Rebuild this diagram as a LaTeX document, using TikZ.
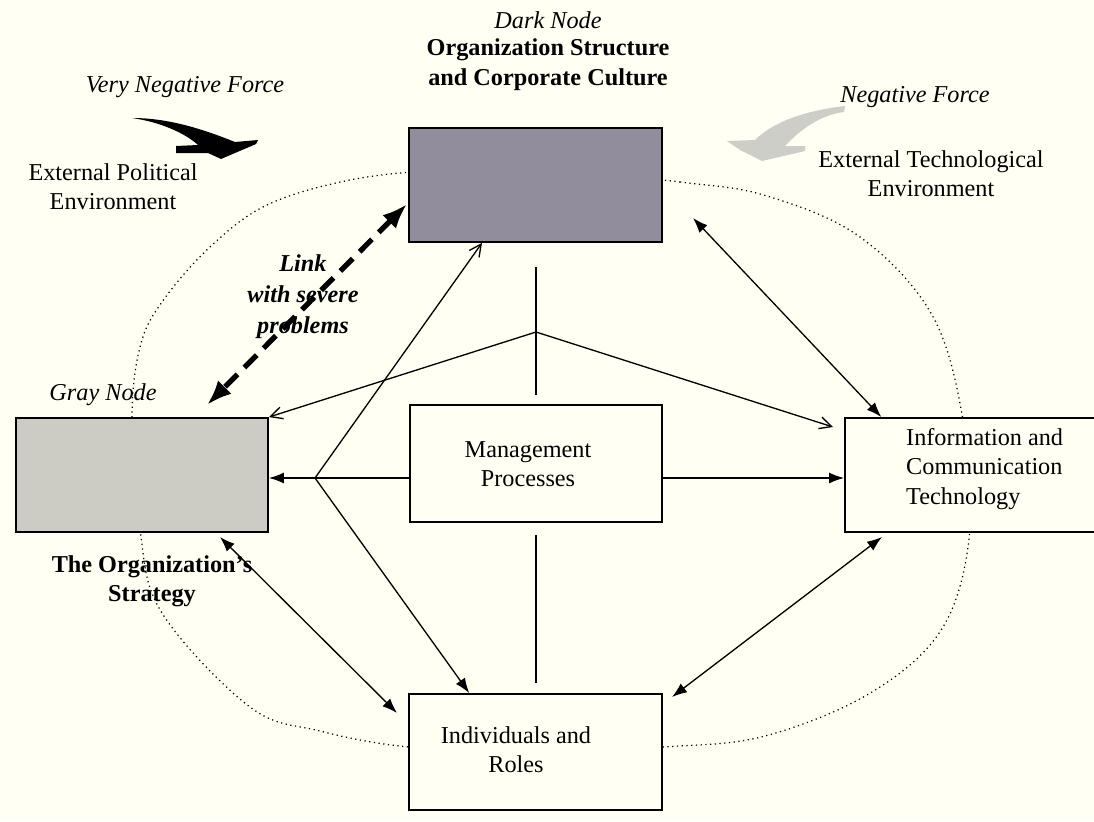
\documentclass[tikz,border=0pt]{standalone}
\usepackage{fontspec}
\setmainfont{Liberation Serif}
\usepackage{xcolor}
\usetikzlibrary{arrows.meta,calc}
\definecolor{paper}{RGB}{255,255,243}
\definecolor{darkfill}{RGB}{145,141,156}
\definecolor{grayfill}{RGB}{204,204,197}
\definecolor{swoosh}{RGB}{206,206,200}

\begin{document}
\begin{tikzpicture}[x=0.02cm,y=-0.02cm,
  font=\fontsize{13.8}{16.6}\selectfont,
  box/.style={draw,line width=1.1pt,inner sep=0pt,fill=paper},
  link/.style={line width=0.75pt},
  filled/.style={-{Latex[length=3mm,width=2.2mm]}},
  both/.style={{Latex[length=3mm,width=2.2mm]}-{Latex[length=3mm,width=2.2mm]}},
  open/.style={-{Straight Barb[length=2.4mm,width=2.4mm]}}]
% canvas in pixel units
\useasboundingbox (0,0) rectangle (1094,821);
\clip (0,0) rectangle (1094,821);
\fill[paper] (0,0) rectangle (1094,821);

% dotted environment ring
\draw[dotted,line width=0.7pt] plot[smooth cycle,tension=0.6] coordinates {
 (536,168) (680,182) (767,196) (860,237) (932,315) (963,420) (970,530)
 (943,627) (872,692) (765,736) (663,747) (536,752) (409,747) (320,731)
 (250,707) (162,613) (140,530) (132,420) (140,347) (162,302) (210,247)
 (267,205) (350,180) (440,170)};

\node[box,fill=darkfill,minimum width=5.06cm,minimum height=2.28cm] (dark) at (535.5,185) {};
\node[box,fill=grayfill,minimum width=5.04cm,minimum height=2.28cm] (gray) at (142,475) {};
\node[box,minimum width=5.04cm,minimum height=2.34cm] (mgmt) at (536,463.5) {};
\node[box,minimum width=5.1cm,minimum height=2.28cm] (ict) at (972.5,475) {};
\node[box,minimum width=5.06cm,minimum height=2.32cm] (indiv) at (535.5,752) {};

\coordinate (hubL) at (315,478);
\coordinate (hubT) at (536,332);
\coordinate (stemT) at (536,267);
\coordinate (stemM) at (536,395);
\coordinate (stemB) at (536,535);
\coordinate (stemE) at (536,683);
\coordinate (ictnear) at (833,427);
\coordinate (darkout) at (693,218);
\coordinate (grayout) at (220,537);
\coordinate (indivin) at (397,713);
\coordinate (indivout) at (672,697);
\coordinate (ictlow) at (882,537);
\coordinate (grayhit) at (207,405);

\draw[link] (stemT) -- (stemM);
\draw[link] (stemB) -- (stemE);
\draw[link,filled] (mgmt.west |- hubL) -- (gray.east |- hubL);
\draw[link,filled] (mgmt.east |- hubL) -- (ict.west |- hubL);
\draw[link,open] (hubL) -- ($(dark.south west)!0.29!(dark.south east)$);
\draw[link,filled] (hubL) -- ($(indiv.north west)!0.24!(indiv.north east)$);
\draw[link,open] (hubT) -- (gray.north east);
\draw[link,open] (hubT) -- (ictnear);
\draw[link,both] (darkout) -- ($(ict.north west)!0.145!(ict.north east)$);
\draw[link,both] (grayout) -- (indivin);
\draw[link,both] (indivout) -- (ictlow);
\draw[line width=3pt,dash pattern=on 10pt off 5.5pt,
  {Latex[length=5mm,width=3.8mm]}-{Latex[length=5mm,width=3.8mm]}]
  ($(dark.west)+(-1,19)$) -- (grayhit);

% force arrows
\fill[black] (132,118) .. controls (170,118) and (205,130) .. (235,142) -- (258,140)
  -- (256,144) -- (221,159) -- (208,153) -- (176,153) -- (176,146) -- (198,145)
  .. controls (185,133) and (160,122) .. (132,118) -- cycle;
\fill[swoosh] (845,106) .. controls (810,110) and (775,120) .. (755,140) -- (727,141)
  -- (740,150) -- (762,161) -- (805,151) -- (805,146) -- (785,146)
  .. controls (800,130) and (820,115) .. (844,112) -- cycle;

\node (darklbl) at (548,20) {\itshape Dark Node};
\node[align=center,font=\fontsize{13.8}{17}\selectfont\bfseries] (darktxt) at (548,65) {Organization Structure\\and Corporate Culture};
\node (vneg) at (185,87) {\itshape Very Negative Force};
\node (neg) at (915,97) {\itshape Negative Force};
\node[align=center] (polenv) at (113,187) {External Political\\Environment};
\node[align=center] (techenv) at (931,174) {External Technological\\Environment};
\node (graylbl) at (103,395) {\itshape Gray Node};
\node[align=center,font=\fontsize{13.8}{16.6}\selectfont\bfseries] (graytxt) at (152,581) {The Organization’s\\Strategy};
\node[align=center,font=\fontsize{13.8}{17.6}\selectfont\bfseries\itshape] (linktxt) at (303,297) {Link\\with severe\\problems};
\node[align=center] (mgmttxt) at (528,464) {Management\\Processes};
\node[align=center] (indivtxt) at (516,750) {Individuals and\\Roles};
\node[align=left,anchor=west] (icttxt) at (900,469) {Information and\\Communication\\Technology};
\end{tikzpicture}
\end{document}
